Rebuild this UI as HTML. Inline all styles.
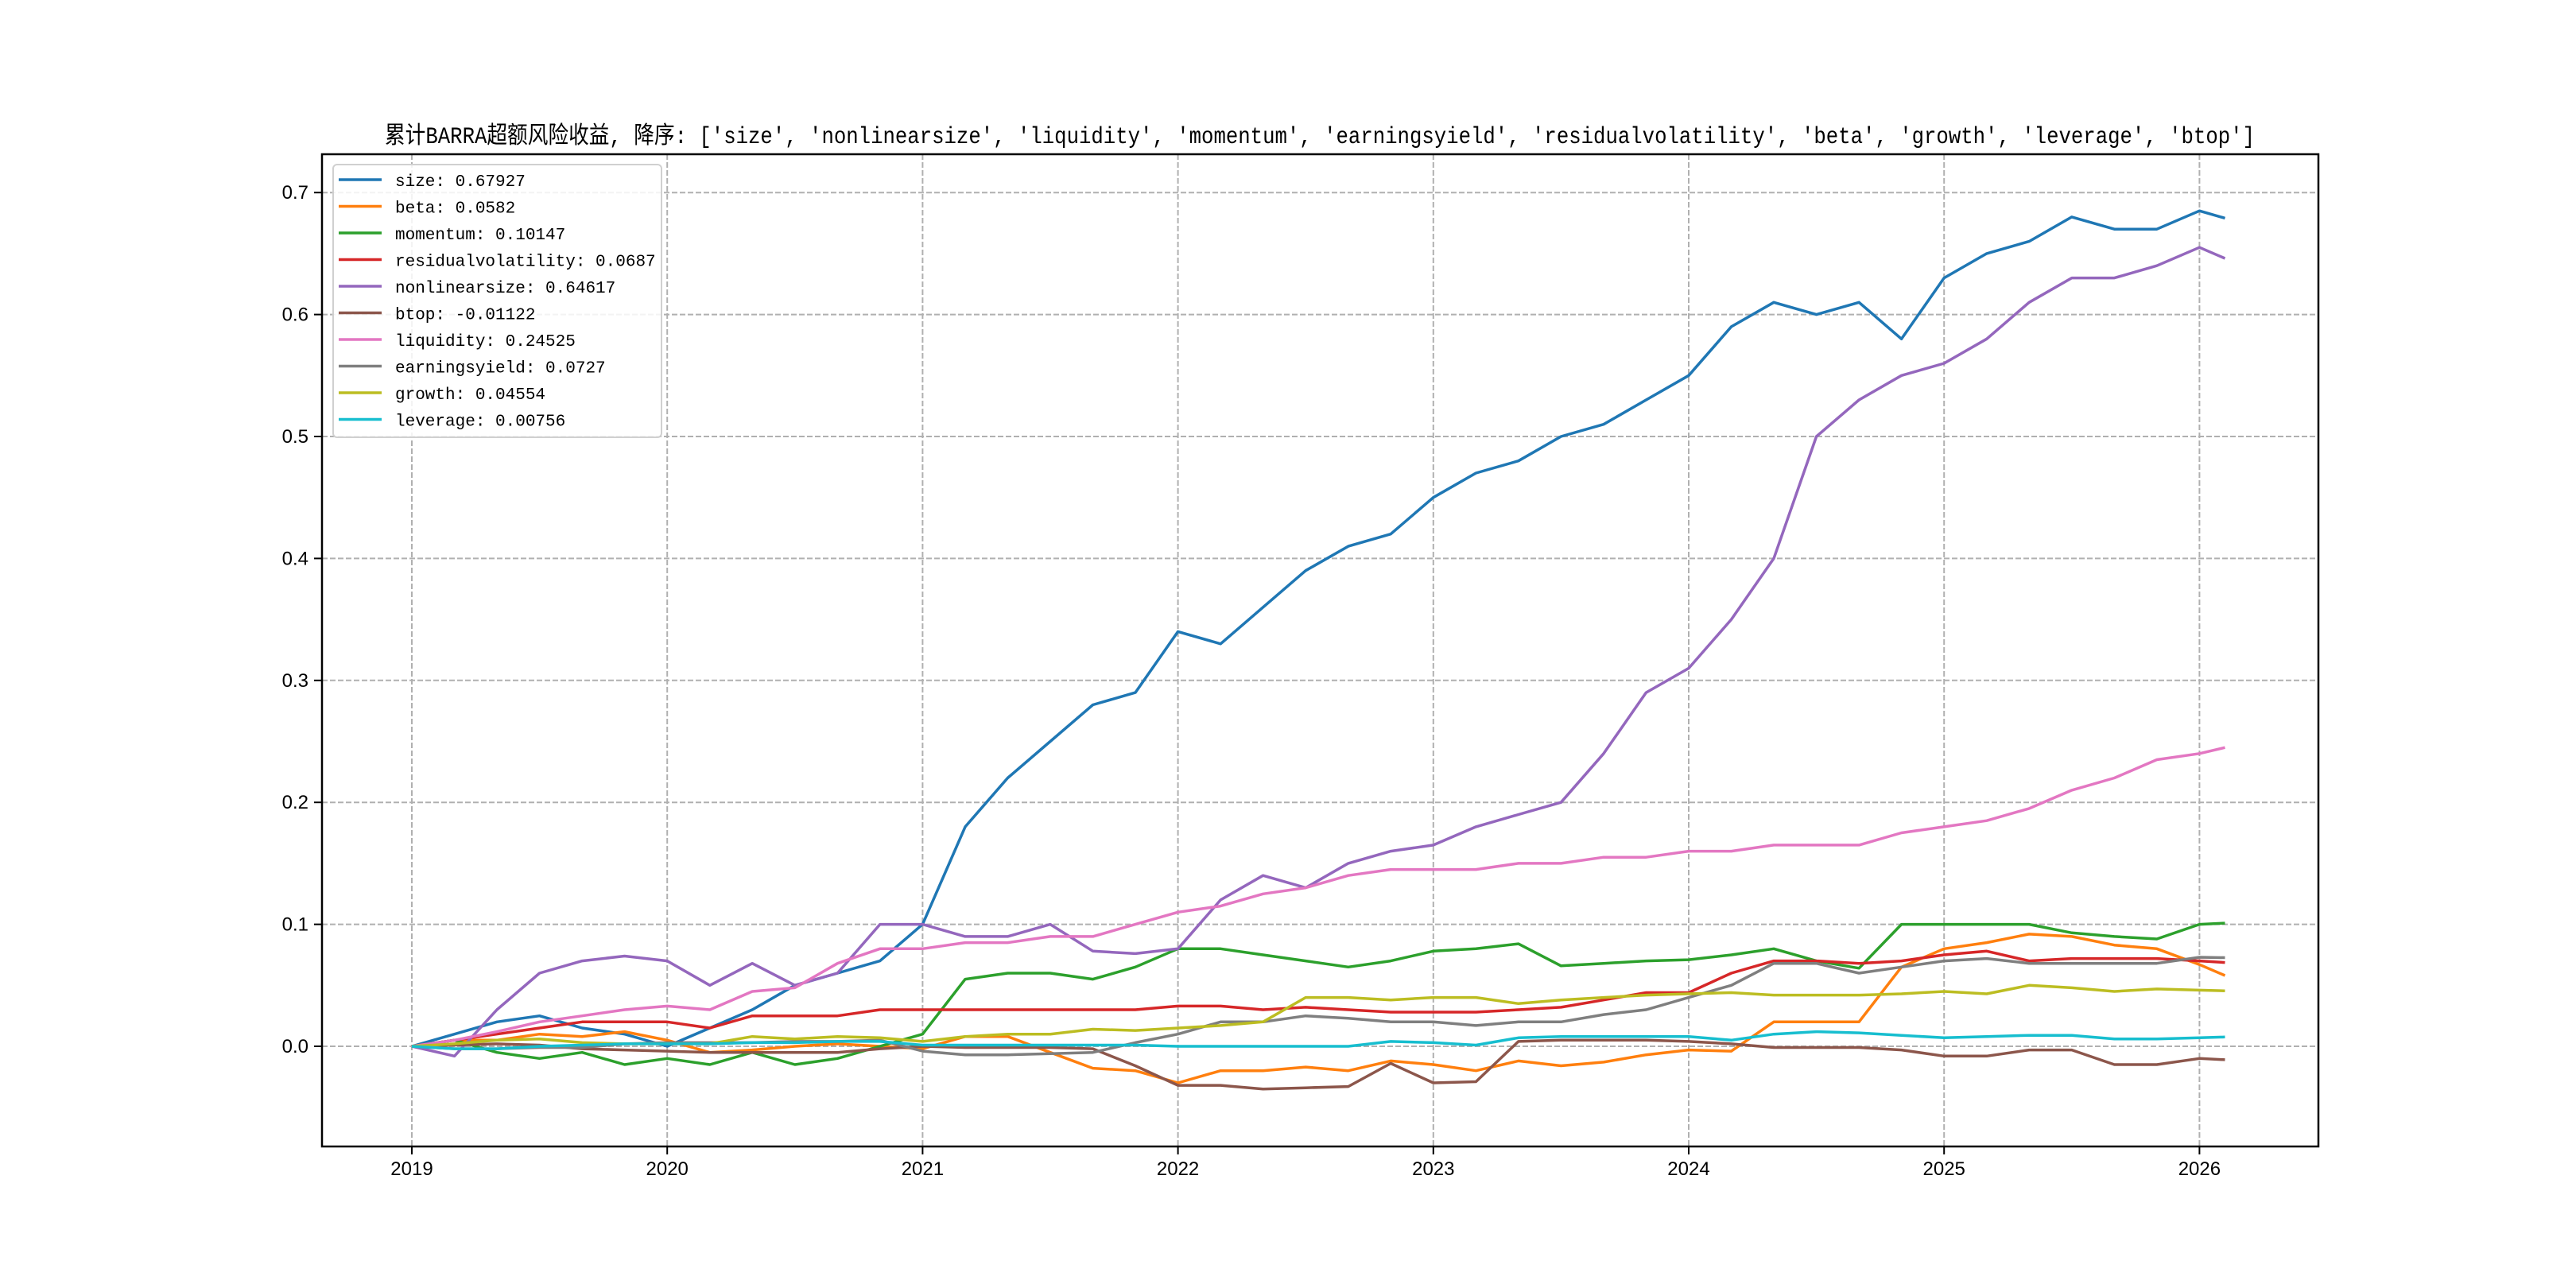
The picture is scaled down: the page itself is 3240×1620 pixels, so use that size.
<!DOCTYPE html>
<html><head><meta charset="utf-8">
<style>
html,body{margin:0;padding:0;background:#fff;}
svg{display:block;}
</style></head>
<body>
<svg id="chart" width="3240" height="1620" viewBox="0 0 3240 1620" xmlns="http://www.w3.org/2000/svg">
<rect x="0" y="0" width="3240" height="1620" fill="#fff"/>
<text x="1660" y="180" text-anchor="middle" font-family="'Liberation Mono','Noto Sans CJK SC',monospace" font-size="30" textLength="2352" lengthAdjust="spacingAndGlyphs" fill="#000">累计BARRA超额风险收益,  降序: ['size', 'nonlinearsize', 'liquidity', 'momentum', 'earningsyield', 'residualvolatility', 'beta', 'growth', 'leverage', 'btop']</text>
<g id="grid"></g>
<g id="series"></g>
<rect x="405" y="194" width="2511" height="1248" fill="none" stroke="#000" stroke-width="2.5"/>
<g id="xticks"></g>
<g id="yticks"></g>
<g id="legend"></g>
</svg>
<script>
const dates = [2019,2019.167,2019.333,2019.5,2019.667,2019.833,
2020,2020.167,2020.333,2020.5,2020.667,2020.833,
2021,2021.167,2021.333,2021.5,2021.667,2021.833,
2022,2022.167,2022.333,2022.5,2022.667,2022.833,
2023,2023.167,2023.333,2023.5,2023.667,2023.833,
2024,2024.167,2024.333,2024.5,2024.667,2024.833,
2025,2025.167,2025.333,2025.5,2025.667,2025.833,
2026,2026.1];
const sizeVals = [0,.01,.02,.025,.015,.01, 0,.015,.03,.05,.06,.07, .10,.18,.22,.25,.28,.29, .34,.33,.36,.39,.41,.42, .45,.47,.48,.50,.51,.53, .55,.59,.61,.60,.61,.58, .63,.65,.66,.68,.67,.67, .685,.679];
const betaVals = [0,.005,.005,.01,.008,.012, .005,-.005,-.003,0,.002,0, -.002,.008,.008,-.005,-.018,-.02, -.03,-.02,-.02,-.017,-.02,-.012, -.015,-.02,-.012,-.016,-.013,-.007, -.003,-.004,.02,.02,.02,.065, .08,.085,.092,.09,.083,.08, .067,.058];
const momentumVals = [0,.005,-.005,-.01,-.005,-.015, -.01,-.015,-.005,-.015,-.01,0, .01,.055,.06,.06,.055,.065, .08,.08,.075,.07,.065,.07, .078,.08,.084,.066,.068,.07, .071,.075,.08,.07,.064,.1, .1,.1,.1,.093,.09,.088, .1,.101];
const resvolVals = [0,.005,.01,.015,.02,.02, .02,.015,.025,.025,.025,.03, .03,.03,.03,.03,.03,.03, .033,.033,.03,.032,.03,.028, .028,.028,.03,.032,.038,.044, .044,.06,.07,.07,.068,.07, .075,.078,.07,.072,.072,.072, .07,.0687];
const nlsizeVals = [0,-.008,.03,.06,.07,.074, .07,.05,.068,.05,.06,.1, .1,.09,.09,.1,.078,.076, .08,.12,.14,.13,.15,.16, .165,.18,.19,.20,.24,.29, .31,.35,.40,.50,.53,.55, .56,.58,.61,.63,.63,.64, .655,.646];
const btopVals = [0,.001,.002,.001,-.002,-.003, -.004,-.005,-.005,-.005,-.005,-.002, 0,-.001,-.001,-.001,-.002,-.016, -.032,-.032,-.035,-.034,-.033,-.014, -.03,-.029,.004,.005,.005,.005, .004,.002,-.001,-.001,-.001,-.003, -.008,-.008,-.003,-.003,-.015,-.015, -.01,-.011];
const liquidityVals = [0,.005,.012,.02,.025,.03, .033,.03,.045,.048,.068,.08, .08,.085,.085,.09,.09,.10, .11,.115,.125,.13,.14,.145, .145,.145,.15,.15,.155,.155, .16,.16,.165,.165,.165,.175, .18,.185,.195,.21,.22,.235, .24,.245];
const eyVals = [0,-.002,-.002,-.001,-.001,.002, .003,.003,.003,.004,.004,.005, -.004,-.007,-.007,-.006,-.005,.003, .01,.02,.02,.025,.023,.02, .02,.017,.02,.02,.026,.03, .04,.05,.068,.068,.06,.065, .07,.072,.068,.068,.068,.068, .073,.0727];
const growthVals = [0,.002,.005,.006,.003,.002, .002,.002,.008,.006,.008,.007, .004,.008,.01,.01,.014,.013, .015,.017,.02,.04,.04,.038, .04,.04,.035,.038,.04,.042, .043,.044,.042,.042,.042,.043, .045,.043,.05,.048,.045,.047, .046,.0455];
const leverageVals = [0,-.002,-.002,0,.001,.002, .002,.002,.003,.003,.004,.004, .001,.001,.001,.001,.001,.001, 0,0,0,0,0,.004, .003,.001,.007,.008,.008,.008, .008,.005,.01,.012,.011,.009, .007,.008,.009,.009,.006,.006, .007,.0076];
const seriesNames = ['size','beta','momentum','residualvolatility','nonlinearsize','btop','liquidity','earningsyield','growth','leverage'];
const legendValues = ['0.67927','0.0582','0.10147','0.0687','0.64617','-0.01122','0.24525','0.0727','0.04554','0.00756'];
const xTickLabels = ['2019','2020','2021','2022','2023','2024','2025','2026'];
const yTickLabels = ['0.0','0.1','0.2','0.3','0.4','0.5','0.6','0.7'];

const allSeries = [sizeVals,betaVals,momentumVals,resvolVals,nlsizeVals,btopVals,liquidityVals,eyVals,growthVals,leverageVals];
const colors = ['#1f77b4','#ff7f0e','#2ca02c','#d62728','#9467bd','#8c564b','#e377c2','#7f7f7f','#bcbd22','#17becf'];
const NS='http://www.w3.org/2000/svg';
const L=405,R=2916,T=194,B=1442;
function xScale(t){return 518+(t-2019)*321.2;}
function yScale(v){return 1316-v*1534;}
function mk(tag,attrs,parent){const e=document.createElementNS(NS,tag);for(const k in attrs)e.setAttribute(k,attrs[k]);parent.appendChild(e);return e;}
const grid=document.getElementById('grid'),xt=document.getElementById('xticks'),yt=document.getElementById('yticks'),sg=document.getElementById('series'),lg=document.getElementById('legend');
xTickLabels.forEach(lab=>{
  const x=xScale(parseFloat(lab));
  const gl=mk('line',{x1:x,x2:x,y1:T,y2:B,stroke:'#b0b0b0','stroke-width':2,'stroke-dasharray':'7,3'},grid);
  
  
  const tk=mk('line',{x1:x,x2:x,y1:B,y2:B+10,stroke:'#000','stroke-width':2},xt);
  
  
  const tx=mk('text',{x:x,y:B+36,'text-anchor':'middle','font-family':"'Liberation Sans',sans-serif",'font-size':24},xt);
  tx.textContent=lab;
  
  
});
yTickLabels.forEach(lab=>{
  const y=yScale(parseFloat(lab));
  const gl=mk('line',{x1:L,x2:R,y1:y,y2:y,stroke:'#b0b0b0','stroke-width':2,'stroke-dasharray':'7,3'},grid);
  
  
  const tk=mk('line',{x1:L-10,x2:L,y1:y,y2:y,stroke:'#000','stroke-width':2},yt);
  
  
  const tx=mk('text',{x:L-17,y:y+8,'text-anchor':'end','font-family':"'Liberation Sans',sans-serif",'font-size':24},yt);
  tx.textContent=lab;
  
  
});
allSeries.forEach((vals,i)=>{
  const d=vals.map((v,j)=>(j?'L':'M')+xScale(dates[j]).toFixed(1)+','+yScale(v).toFixed(1)).join(' ');
  const p=mk('path',{d:d,fill:'none',stroke:colors[i],'stroke-width':3.5,'stroke-linejoin':'round'},sg);
  
  
});
const box=mk('rect',{x:419,y:207,width:413,height:343,rx:5,fill:'#fff','fill-opacity':0.85,stroke:'#d0d0d0','stroke-width':2},lg);


seriesNames.forEach((n,i)=>{
  const y=226+i*33.5;
  const g=mk('g',{},lg);
  
  
  mk('line',{x1:426,x2:480,y1:y,y2:y,stroke:colors[i],'stroke-width':3.5},g);
  const t=mk('text',{x:497,y:y+8,'font-family':"'Liberation Mono',monospace",'font-size':21},g);
  t.textContent=n+': '+legendValues[i];
});
</script>
</body></html>
